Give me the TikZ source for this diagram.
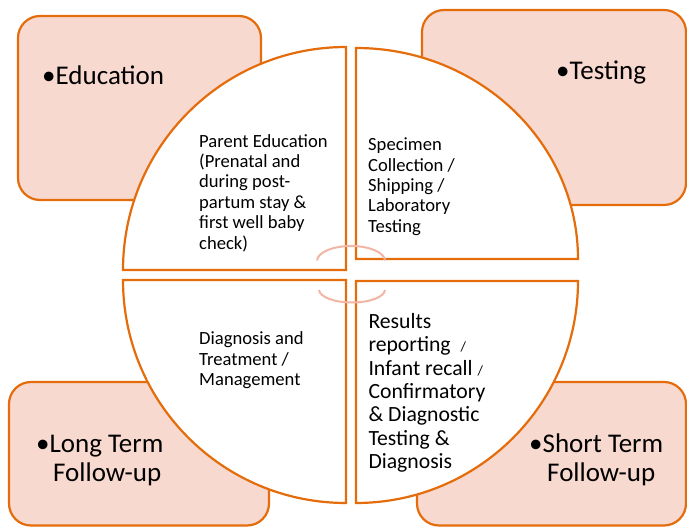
\documentclass[tikz,border=0pt]{standalone}
\usepackage{fontspec}
\setmainfont{Carlito}
\definecolor{orn}{HTML}{E46C0A}
\definecolor{pinkfill}{HTML}{F8D9D0}
\definecolor{arcpink}{HTML}{F2B6A5}
\begin{document}
\begin{tikzpicture}[x=1pt,y=1pt,
 box/.style={draw=orn, line width=2.2pt, fill=pinkfill, rounded corners=22pt},
 quad/.style={draw=orn, line width=2.2pt, fill=white},
 link/.style={draw=arcpink, line width=2pt},
 big/.style={inner sep=0pt, anchor=base west, align=left, font=\fontsize{27}{29}\selectfont},
 small/.style={inner sep=0pt, anchor=base west, align=left, font=\fontsize{18.6}{20.4}\selectfont},
 mid/.style={inner sep=0pt, anchor=base west, align=left, font=\fontsize{21.7}{23.3}\selectfont}]
\useasboundingbox (0,0) rectangle (687,527);
% outer boxes
\path[box] (18,327) rectangle (261,511);
\path[box] (422,322) rectangle (686,517);
\path[box] (9,1.5) rectangle (269,145);
\path[box] (417,1.5) rectangle (686,145);
% quadrants
\path[quad] (346,257) -- (123,257) arc[start angle=180, end angle=90, radius=223] -- cycle;
\path[quad] (356,268) -- (356,479) arc[start angle=90, end angle=0, x radius=222, y radius=211] -- cycle;
\path[quad] (346,247) -- (123,247) arc[start angle=180, end angle=270, radius=223] -- cycle;
\path[quad] (356,246) -- (578,246) arc[start angle=0, end angle=-90, radius=222] -- cycle;
% linking arcs
\path[link] (351,266) ++(178:34 and 15) arc[start angle=178, end angle=2, x radius=34, y radius=15];
\path[link] (352,237.5) ++(182:33 and 13) arc[start angle=182, end angle=358, x radius=33, y radius=13];
% outer texts (anchor = baseline of last line)
\node[big] (tedu) at (42,442) {•Education};
\node[big] (ttest) at (556,447) {•Testing};
\node[big] (tlong) at (36,45.3) {•Long Term\\\hspace*{17pt}Follow-up};
\node[big] (tshort) at (529,45.3) {•Short Term\\\hspace*{18pt}Follow-up};
% inner texts
\node[small] (tparent) at (199,277.8) {Parent Education\\(Prenatal and\\during post-\\partum stay \&\\first well baby\\check)};
\node[small] (tspec) at (368,294.7) {Specimen\\Collection /\\Shipping /\\Laboratory\\Testing};
\node[small] (tdiag) at (199,141.5) {Diagnosis and\\Treatment /\\Management};
\node[mid] (tres) at (368.3,58.7) {Results\\reporting\ \ {\fontsize{14}{14}\selectfont /}\\Infant recall {\fontsize{14}{14}\selectfont /}\\Confirmatory\\\& Diagnostic\\Testing \&\\Diagnosis};
\end{tikzpicture}
\end{document}
